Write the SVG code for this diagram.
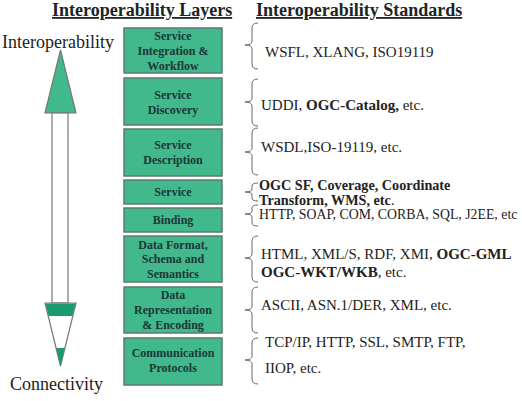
<svg xmlns="http://www.w3.org/2000/svg" width="522" height="401" viewBox="0 0 522 401">
<style>
.box{fill:#41b98d;stroke:#5b7b70;stroke-width:1.5}
.bt{font-family:"Liberation Serif",serif;font-weight:bold;font-size:12px;fill:#1d3636;text-anchor:middle}
.hd{font-family:"Liberation Serif",serif;font-weight:bold;font-size:18px;fill:#1a2626;text-decoration:underline}
.lb{font-family:"Liberation Serif",serif;font-size:18px;fill:#222}
.st{font-family:"Liberation Serif",serif;font-size:15px;fill:#222}
.sm{font-size:14.2px}
.xs{font-size:13.8px}
.b{font-weight:bold}
.br{fill:none;stroke:#666;stroke-width:1}
.ar{stroke:#777;stroke-width:1.2}
</style>
<rect width="522" height="401" fill="#fff"/>
<text class="hd" x="52" y="16">Interoperability Layers</text>
<text class="hd" x="256" y="16">Interoperability Standards</text>
<text class="lb" x="2" y="48">Interoperability</text>
<text class="lb" x="10" y="390">Connectivity</text>
<g id="arrow">
<polygon class="ar" points="60.5,50 45,113 76,113" fill="#41b98d"/>
<rect class="ar" x="52" y="113" width="16" height="190" fill="#fff"/>
<polygon class="ar" points="45,303 76,303 60.5,366" fill="#fff"/>
<polygon points="45.5,303.5 75.5,303.5 72.3,316 48.7,316" fill="#1a9a6e"/>
<polygon points="56.2,348 64.8,348 60.5,366" fill="#1a9a6e"/>
</g>
<g id="n1"><rect class="box" x="124" y="28" width="98" height="45"/><text class="bt" x="173" y="40">Service</text><text class="bt" x="173" y="55">Integration &amp;</text><text class="bt" x="173" y="69.5">Workflow</text></g>
<g id="n2"><rect class="box" x="124" y="78" width="98" height="47"/><text class="bt" x="173" y="99">Service</text><text class="bt" x="173" y="114">Discovery</text></g>
<g id="n3"><rect class="box" x="124" y="129" width="98" height="47"/><text class="bt" x="173" y="149">Service</text><text class="bt" x="173" y="164">Description</text></g>
<g id="n4"><rect class="box" x="124" y="180" width="98" height="24"/><text class="bt" x="173" y="196">Service</text></g>
<g id="n5"><rect class="box" x="124" y="208" width="98" height="24"/><text class="bt" x="173" y="224">Binding</text></g>
<g id="n6"><rect class="box" x="124" y="236" width="98" height="46"/><text class="bt" x="173" y="248.5">Data Format,</text><text class="bt" x="173" y="263">Schema and</text><text class="bt" x="173" y="277.5">Semantics</text></g>
<g id="n7"><rect class="box" x="124" y="287" width="98" height="46"/><text class="bt" x="173" y="299">Data</text><text class="bt" x="173" y="314">Representation</text><text class="bt" x="173" y="329">&amp; Encoding</text></g>
<g id="n8"><rect class="box" x="124" y="338" width="98" height="47"/><text class="bt" x="173" y="357">Communication</text><text class="bt" x="173" y="372">Protocols</text></g>
<g id="connectors">
<path class="br" d="M258,23 Q252,23 252,28 L252,41 Q252,45 245,45 Q252,45 252,49 L252,64 Q252,69 258,69"/>
<path class="br" d="M258,79 Q252,79 252,84 L252,98 Q252,102 245,102 Q252,102 252,106 L252,121 Q252,126 258,126"/>
<path class="br" d="M258,128 Q252,128 252,133 L252,148 Q252,152 245,152 Q252,152 252,156 L252,170 Q252,175 258,175"/>
<path class="br" d="M258,183 Q252,183 252,186 L252,189 Q252,192 245,192 Q252,192 252,195 L252,198 Q252,201 258,201"/>
<path class="br" d="M258,205 Q252,205 252,208 L252,211 Q252,214 245,214 Q252,214 252,217 L252,223 Q252,226 258,226"/>
<path class="br" d="M258,236 Q252,236 252,241 L252,254 Q252,258 245,258 Q252,258 252,262 L252,277 Q252,282 258,282"/>
<path class="br" d="M258,287 Q252,287 252,292 L252,306 Q252,310 245,310 Q252,310 252,314 L252,328 Q252,333 258,333"/>
<path class="br" d="M258,338 Q252,338 252,343 L252,356 Q252,360 245,360 Q252,360 252,364 L252,379 Q252,384 258,384"/>
</g>
<g id="standards">
<text class="st" x="265" y="57">WSFL, XLANG, ISO19119</text>
<text class="st" x="261" y="110">UDDI, <tspan class="b">OGC-Catalog,</tspan> etc.</text>
<text class="st" x="261" y="152">WSDL,ISO-19119, etc.</text>
<text class="st sm b" x="259" y="190">OGC SF, Coverage, Coordinate</text>
<text class="st sm" x="259" y="204.5"><tspan class="b">Transform, WMS, etc</tspan>.</text>
<text class="st xs" x="259" y="219">HTTP, SOAP, COM, CORBA, SQL, J2EE, etc</text>
<text class="st" x="261" y="259">HTML, XML/S, RDF, XMI, <tspan class="b">OGC-GML</tspan></text>
<text class="st" x="261" y="277"><tspan class="b">OGC-WKT/WKB</tspan>, etc.</text>
<text class="st" x="261" y="310">ASCII, ASN.1/DER, XML, etc.</text>
<text class="st" x="265" y="347">TCP/IP, HTTP, SSL, SMTP, FTP,</text>
<text class="st" x="265" y="373">IIOP, etc.</text>
</g>
</svg>
